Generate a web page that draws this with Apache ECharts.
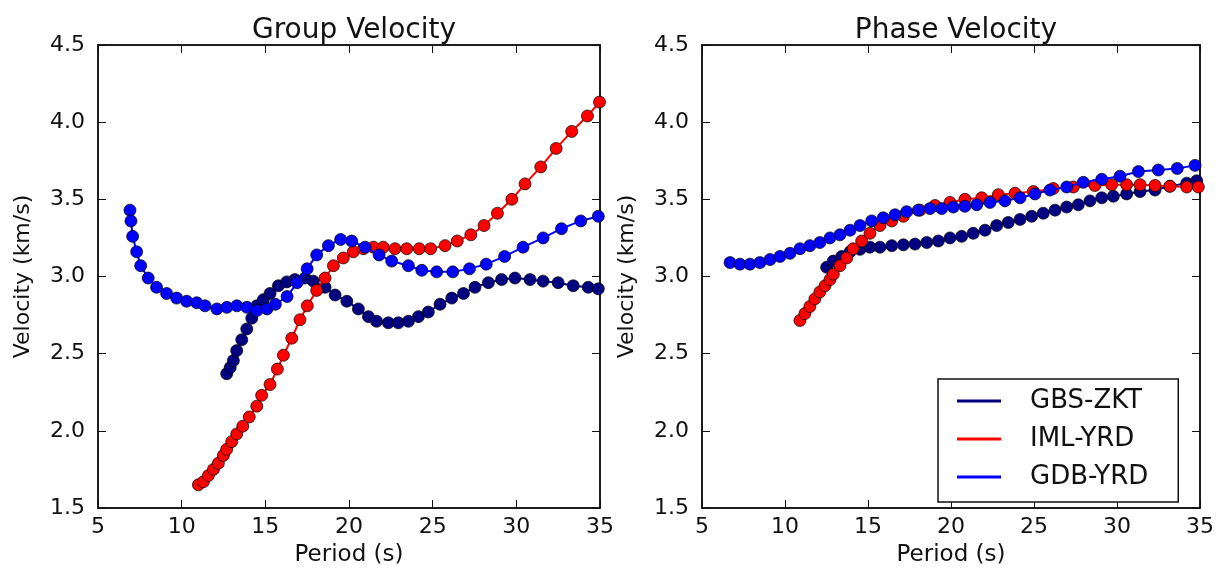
<!DOCTYPE html>
<html>
<head>
<meta charset="utf-8">
<script src="https://cdn.jsdelivr.net/npm/echarts@6/dist/echarts.min.js"></script>
<style>
  html, body { margin: 0; padding: 0; background: #fff; }
  #chart { width: 1219px; height: 572px; }
</style>
</head>
<body>
<div id="chart"></div>
<script>
// series names, in plotting order
const names = ['GBS-ZKT', 'IML-YRD', 'GDB-YRD'];
const colors = ['#000080', '#ff0000', '#0000ff'];

// group velocity, [period s, velocity km/s]
const groupGBS = [[12.69,2.37],[12.9,2.41],[13.09,2.455],[13.29,2.52],[13.59,2.59],[13.89,2.66],[14.19,2.73],[14.49,2.81],[14.88,2.85],[15.28,2.89],[15.78,2.94],[16.28,2.965],[16.77,2.98],[17.37,2.99],[17.87,2.97],[18.57,2.93],[19.17,2.88],[19.87,2.84],[20.56,2.79],[21.16,2.74],[21.65,2.71],[22.35,2.70],[22.95,2.70],[23.55,2.71],[24.15,2.74],[24.74,2.77],[25.44,2.82],[26.14,2.86],[26.84,2.89],[27.53,2.93],[28.33,2.96],[29.12,2.98],[29.92,2.99],[30.82,2.98],[31.6,2.97],[32.5,2.96],[33.4,2.94],[34.3,2.93],[34.9,2.92]];
const groupIML = [[11.0,1.65],[11.3,1.67],[11.6,1.71],[11.9,1.75],[12.19,1.79],[12.49,1.84],[12.69,1.88],[12.99,1.93],[13.29,1.98],[13.65,2.03],[14.04,2.09],[14.49,2.16],[14.78,2.23],[15.28,2.30],[15.72,2.40],[16.08,2.49],[16.58,2.60],[17.07,2.72],[17.51,2.81],[18.07,2.91],[18.57,2.99],[19.07,3.07],[19.66,3.12],[20.26,3.16],[20.86,3.18],[21.46,3.19],[22.05,3.19],[22.75,3.18],[23.45,3.18],[24.2,3.18],[24.88,3.18],[25.74,3.20],[26.47,3.23],[27.28,3.27],[28.07,3.33],[28.87,3.41],[29.73,3.50],[30.52,3.60],[31.46,3.71],[32.38,3.83],[33.31,3.94],[34.25,4.04],[34.97,4.13]];
const groupGDB = [[6.91,3.43],[6.97,3.36],[7.07,3.26],[7.31,3.16],[7.55,3.07],[8.0,2.99],[8.5,2.93],[9.1,2.89],[9.7,2.86],[10.3,2.84],[10.9,2.83],[11.4,2.81],[12.1,2.79],[12.7,2.80],[13.3,2.81],[13.9,2.80],[14.5,2.78],[15.1,2.79],[15.6,2.82],[16.3,2.87],[16.9,2.96],[17.5,3.05],[18.07,3.14],[18.77,3.20],[19.5,3.24],[20.16,3.23],[20.96,3.19],[21.8,3.14],[22.55,3.10],[23.55,3.07],[24.35,3.04],[25.24,3.03],[26.2,3.03],[27.2,3.05],[28.2,3.08],[29.3,3.13],[30.4,3.19],[31.6,3.25],[32.7,3.31],[33.85,3.36],[34.9,3.39]];

// phase velocity, [period s, velocity km/s]
const phaseGBS = [[12.51,3.06],[12.91,3.10],[13.42,3.13],[13.92,3.16],[14.52,3.176],[15.12,3.19],[15.72,3.19],[16.43,3.20],[17.13,3.205],[17.83,3.21],[18.54,3.22],[19.24,3.23],[19.94,3.25],[20.64,3.26],[21.34,3.28],[22.05,3.30],[22.75,3.33],[23.45,3.35],[24.16,3.37],[24.86,3.39],[25.56,3.41],[26.27,3.43],[26.97,3.45],[27.67,3.465],[28.37,3.49],[29.08,3.51],[29.78,3.52],[30.58,3.535],[31.39,3.55],[32.29,3.56],[33.19,3.585],[34.2,3.605],[34.8,3.62]];
const phaseIML = [[10.9,2.715],[11.2,2.76],[11.5,2.805],[11.8,2.855],[12.1,2.90],[12.41,2.94],[12.71,2.98],[12.91,3.015],[13.31,3.07],[13.72,3.12],[14.11,3.18],[14.62,3.23],[15.12,3.28],[15.72,3.33],[16.43,3.36],[17.13,3.39],[18.13,3.43],[19.04,3.46],[19.94,3.48],[20.84,3.50],[21.85,3.51],[22.85,3.53],[23.86,3.54],[24.96,3.55],[26.16,3.57],[27.37,3.58],[28.67,3.59],[29.68,3.595],[30.58,3.595],[31.39,3.595],[32.29,3.59],[33.19,3.585],[34.2,3.58],[34.9,3.58]];
const phaseGDB = [[6.69,3.09],[7.29,3.08],[7.89,3.08],[8.49,3.09],[9.10,3.11],[9.70,3.13],[10.30,3.15],[10.90,3.18],[11.5,3.20],[12.1,3.22],[12.71,3.25],[13.31,3.27],[13.92,3.30],[14.52,3.33],[15.22,3.36],[15.92,3.38],[16.63,3.40],[17.33,3.42],[18.03,3.43],[18.73,3.44],[19.44,3.44],[20.14,3.45],[20.84,3.455],[21.55,3.465],[22.35,3.48],[23.25,3.49],[24.16,3.51],[25.06,3.535],[25.96,3.56],[26.97,3.58],[27.97,3.61],[29.08,3.63],[30.18,3.65],[31.29,3.68],[32.49,3.69],[33.63,3.70],[34.70,3.72]];

const titles = ['Group Velocity', 'Phase Velocity'];
const xName = 'Period (s)';
const yName = 'Velocity (km/s)';

const font = "'DejaVu Sans', sans-serif";
const ink = '#111';

const chart = echarts.init(document.getElementById('chart'), null, { renderer: 'canvas' });

const grids = [
    { left: 98, top: 45, width: 502, height: 467 },
    { left: 702, top: 45, width: 498, height: 467 }
];

const tickStyle = { show: true, inside: true, length: 8, lineStyle: { color: ink, width: 1 } };

function xAxisPair(gi) {
    const base = { type: 'value', gridIndex: gi, min: 5, max: 35, interval: 5, splitLine: { show: false },
        axisLine: { show: true, lineStyle: { color: ink, width: 1.5 } }, axisTick: tickStyle };
    return [
        { ...base, position: 'bottom', name: xName, nameLocation: 'middle', nameGap: 36,
          nameTextStyle: { fontFamily: font, fontSize: 23, color: ink },
          axisLabel: { fontFamily: font, fontSize: 22, color: ink, margin: 8 } },
        { ...base, position: 'top', axisLabel: { show: false } }
    ];
}

function yAxisPair(gi) {
    const base = { type: 'value', gridIndex: gi, min: 1.5, max: 4.5, interval: 0.5, splitLine: { show: false },
        axisLine: { show: true, lineStyle: { color: ink, width: 1.5 } }, axisTick: tickStyle };
    return [
        { ...base, position: 'left', name: yName, nameLocation: 'middle', nameGap: 64,
          nameTextStyle: { fontFamily: font, fontSize: 22, color: ink },
          axisLabel: { fontFamily: font, fontSize: 22, color: ink, margin: 13, formatter: v => v.toFixed(1) } },
        { ...base, position: 'right', axisLabel: { show: false } }
    ];
}

const panels = [[groupGBS, groupIML, groupGDB], [phaseGBS, phaseIML, phaseGDB]];
const series = [];
panels.forEach((sets, gi) => {
    sets.forEach((data, si) => {
        series.push({
            name: names[si],
            type: 'line',
            xAxisIndex: gi * 2,
            yAxisIndex: gi * 2,
            data,
            symbol: 'circle',
            symbolSize: 12,
            lineStyle: { color: colors[si], width: 2 },
            itemStyle: { color: colors[si], borderColor: '#000', borderWidth: 0.7 },
            z: 2 + si
        });
    });
});

chart.setOption({
    animation: false,
    backgroundColor: '#fff',
    textStyle: { fontFamily: font },
    title: [
        { text: titles[0], left: 349, top: 12, textAlign: 'center', textStyle: { fontFamily: font, fontSize: 28, fontWeight: 'normal', color: ink } },
        { text: titles[1], left: 951, top: 12, textAlign: 'center', textStyle: { fontFamily: font, fontSize: 28, fontWeight: 'normal', color: ink } }
    ],
    grid: grids.map(g => ({ ...g, show: true, borderColor: ink, borderWidth: 1.5, containLabel: false })),
    xAxis: [...xAxisPair(0), ...xAxisPair(1)],
    yAxis: [...yAxisPair(0), ...yAxisPair(1)],
    legend: {
        data: names,
        orient: 'vertical',
        left: 938,
        top: 379,
        icon: 'rect',
        itemWidth: 44,
        itemHeight: 3,
        itemGap: 12,
        padding: [9, 30, 12, 19],
        borderColor: ink,
        borderWidth: 1.5,
        backgroundColor: '#fff',
        itemStyle: { borderWidth: 0 },
        textStyle: { fontFamily: font, fontSize: 26, color: ink, padding: [0, 0, 0, 24] }
    },
    series
});
</script>
</body>
</html>
